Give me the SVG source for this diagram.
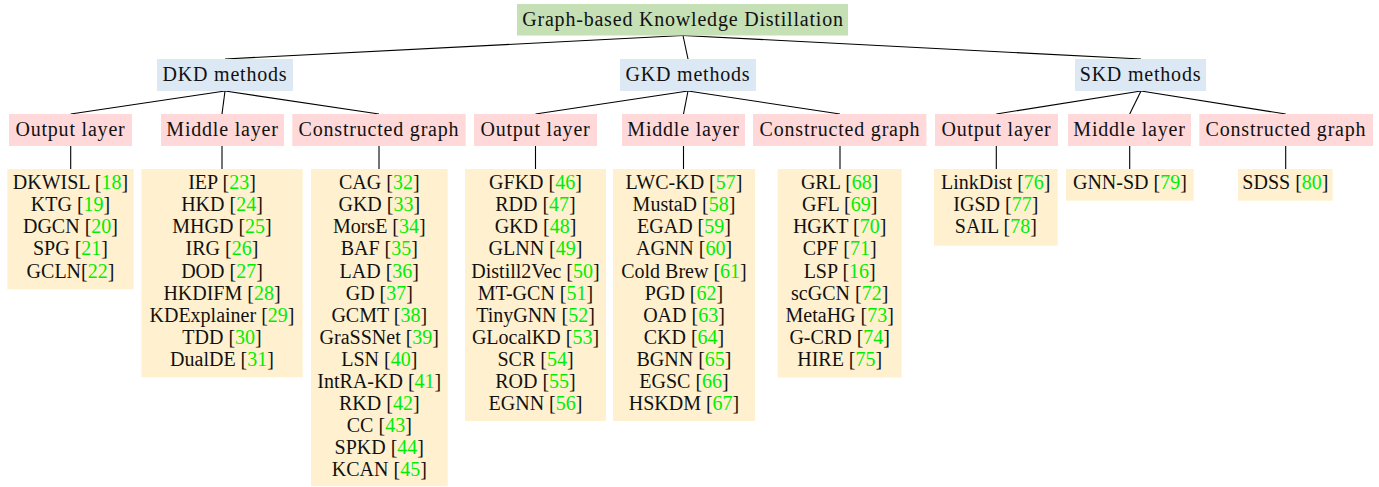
<svg xmlns="http://www.w3.org/2000/svg" width="1379" height="487" viewBox="0 0 1379 487">
<style>
text{font-family:"Liberation Serif","Times New Roman",serif;font-size:20px;fill:#111;text-anchor:middle}
.lb{letter-spacing:0.8px}
.r{fill:#00ee00}
.root{fill:#c5e0b4}
.meth{fill:#dce8f4}
.layer{fill:#ffd9d9}
.leaf{fill:#fff1cf}
#edges line{stroke:#000;stroke-width:1.1}
</style>
<rect width="1379" height="487" fill="#fff"/>
<g id="edges">
<line x1="683" y1="35.5" x2="225" y2="59"/>
<line x1="683" y1="35.5" x2="688" y2="59"/>
<line x1="683" y1="35.5" x2="1141" y2="59"/>
<line x1="225" y1="91" x2="70.7" y2="114"/>
<line x1="225" y1="91" x2="222" y2="114"/>
<line x1="225" y1="91" x2="379" y2="114"/>
<line x1="688" y1="91" x2="535.5" y2="114"/>
<line x1="688" y1="91" x2="683.5" y2="114"/>
<line x1="688" y1="91" x2="840" y2="114"/>
<line x1="1141" y1="91" x2="996.3" y2="114"/>
<line x1="1141" y1="91" x2="1129.7" y2="114"/>
<line x1="1141" y1="91" x2="1285.7" y2="114"/>
<line x1="70.7" y1="146" x2="70.7" y2="169"/>
<line x1="222" y1="146" x2="222" y2="169"/>
<line x1="379" y1="146" x2="379" y2="169"/>
<line x1="535.5" y1="146" x2="535.5" y2="169"/>
<line x1="683.5" y1="146" x2="683.5" y2="169"/>
<line x1="840" y1="146" x2="840" y2="169"/>
<line x1="996.3" y1="146" x2="996.3" y2="169"/>
<line x1="1129.7" y1="146" x2="1129.7" y2="169"/>
<line x1="1285.7" y1="146" x2="1285.7" y2="169"/>
</g>
<g id="root"><rect class="root" x="517" y="4" width="331" height="31.5"/><text class="lb" x="683" y="26">Graph-based Knowledge Distillation</text></g>
<g id="dkd"><rect class="meth" x="157" y="59" width="136" height="32"/><text class="lb" x="225" y="80.5">DKD methods</text></g>
<g id="gkd"><rect class="meth" x="620" y="59" width="136" height="32"/><text class="lb" x="688" y="80.5">GKD methods</text></g>
<g id="skd"><rect class="meth" x="1075" y="59" width="131" height="32"/><text class="lb" x="1140.5" y="80.5">SKD methods</text></g>

<g id="dkd-output"><rect class="layer" x="9" y="114" width="123" height="32"/><text class="lb" x="70.5" y="135.5">Output layer</text></g>
<g id="dkd-middle"><rect class="layer" x="161" y="114" width="123" height="32"/><text class="lb" x="222.5" y="135.5">Middle layer</text></g>
<g id="dkd-constructed"><rect class="layer" x="292.3" y="114" width="173.4" height="32"/><text class="lb" x="379" y="135.5">Constructed graph</text></g>
<g id="gkd-output"><rect class="layer" x="474" y="114" width="123" height="32"/><text class="lb" x="535.5" y="135.5">Output layer</text></g>
<g id="gkd-middle"><rect class="layer" x="622" y="114" width="123" height="32"/><text class="lb" x="683.5" y="135.5">Middle layer</text></g>
<g id="gkd-constructed"><rect class="layer" x="753" y="114" width="173.4" height="32"/><text class="lb" x="840" y="135.5">Constructed graph</text></g>
<g id="skd-output"><rect class="layer" x="935" y="114" width="123" height="32"/><text class="lb" x="996.5" y="135.5">Output layer</text></g>
<g id="skd-middle"><rect class="layer" x="1068" y="114" width="123" height="32"/><text class="lb" x="1129.5" y="135.5">Middle layer</text></g>
<g id="skd-constructed"><rect class="layer" x="1199.3" y="114" width="173.7" height="32"/><text class="lb" x="1286" y="135.5">Constructed graph</text></g>

<g id="dkd-output-leaf"><rect class="leaf" x="7.3" y="169" width="126.4" height="120.3"/>
<text x="70.5" y="189.3">DKWISL [<tspan class="r">18</tspan>]</text>
<text x="70.5" y="211.35">KTG [<tspan class="r">19</tspan>]</text>
<text x="70.5" y="233.4">DGCN [<tspan class="r">20</tspan>]</text>
<text x="70.5" y="255.45">SPG [<tspan class="r">21</tspan>]</text>
<text x="70.5" y="277.5">GCLN[<tspan class="r">22</tspan>]</text>
</g>
<g id="dkd-middle-leaf"><rect class="leaf" x="141.3" y="169" width="161.4" height="208.3"/>
<text x="222" y="189.3">IEP [<tspan class="r">23</tspan>]</text>
<text x="222" y="211.35">HKD [<tspan class="r">24</tspan>]</text>
<text x="222" y="233.4">MHGD [<tspan class="r">25</tspan>]</text>
<text x="222" y="255.45">IRG [<tspan class="r">26</tspan>]</text>
<text x="222" y="277.5">DOD [<tspan class="r">27</tspan>]</text>
<text x="222" y="299.55">HKDIFM [<tspan class="r">28</tspan>]</text>
<text x="222" y="321.6">KDExplainer [<tspan class="r">29</tspan>]</text>
<text x="222" y="343.65">TDD [<tspan class="r">30</tspan>]</text>
<text x="222" y="365.7">DualDE [<tspan class="r">31</tspan>]</text>
</g>
<g id="dkd-constructed-leaf"><rect class="leaf" x="311" y="169" width="136.7" height="317.3"/>
<text x="379.3" y="189.3">CAG [<tspan class="r">32</tspan>]</text>
<text x="379.3" y="211.35">GKD [<tspan class="r">33</tspan>]</text>
<text x="379.3" y="233.4">MorsE [<tspan class="r">34</tspan>]</text>
<text x="379.3" y="255.45">BAF [<tspan class="r">35</tspan>]</text>
<text x="379.3" y="277.5">LAD [<tspan class="r">36</tspan>]</text>
<text x="379.3" y="299.55">GD [<tspan class="r">37</tspan>]</text>
<text x="379.3" y="321.6">GCMT [<tspan class="r">38</tspan>]</text>
<text x="379.3" y="343.65">GraSSNet [<tspan class="r">39</tspan>]</text>
<text x="379.3" y="365.7">LSN [<tspan class="r">40</tspan>]</text>
<text x="379.3" y="387.75">IntRA-KD [<tspan class="r">41</tspan>]</text>
<text x="379.3" y="409.8">RKD [<tspan class="r">42</tspan>]</text>
<text x="379.3" y="431.85">CC [<tspan class="r">43</tspan>]</text>
<text x="379.3" y="453.9">SPKD [<tspan class="r">44</tspan>]</text>
<text x="379.3" y="475.95">KCAN [<tspan class="r">45</tspan>]</text>
</g>
<g id="gkd-output-leaf"><rect class="leaf" x="465" y="169" width="141" height="252"/>
<text x="535.5" y="189.3">GFKD [<tspan class="r">46</tspan>]</text>
<text x="535.5" y="211.35">RDD [<tspan class="r">47</tspan>]</text>
<text x="535.5" y="233.4">GKD [<tspan class="r">48</tspan>]</text>
<text x="535.5" y="255.45">GLNN [<tspan class="r">49</tspan>]</text>
<text x="535.5" y="277.5">Distill2Vec [<tspan class="r">50</tspan>]</text>
<text x="535.5" y="299.55">MT-GCN [<tspan class="r">51</tspan>]</text>
<text x="535.5" y="321.6">TinyGNN [<tspan class="r">52</tspan>]</text>
<text x="535.5" y="343.65">GLocalKD [<tspan class="r">53</tspan>]</text>
<text x="535.5" y="365.7">SCR [<tspan class="r">54</tspan>]</text>
<text x="535.5" y="387.75">ROD [<tspan class="r">55</tspan>]</text>
<text x="535.5" y="409.8">EGNN [<tspan class="r">56</tspan>]</text>
</g>
<g id="gkd-middle-leaf"><rect class="leaf" x="613" y="169" width="142" height="252"/>
<text x="684" y="189.3">LWC-KD [<tspan class="r">57</tspan>]</text>
<text x="684" y="211.35">MustaD [<tspan class="r">58</tspan>]</text>
<text x="684" y="233.4">EGAD [<tspan class="r">59</tspan>]</text>
<text x="684" y="255.45">AGNN [<tspan class="r">60</tspan>]</text>
<text x="684" y="277.5">Cold Brew [<tspan class="r">61</tspan>]</text>
<text x="684" y="299.55">PGD [<tspan class="r">62</tspan>]</text>
<text x="684" y="321.6">OAD [<tspan class="r">63</tspan>]</text>
<text x="684" y="343.65">CKD [<tspan class="r">64</tspan>]</text>
<text x="684" y="365.7">BGNN [<tspan class="r">65</tspan>]</text>
<text x="684" y="387.75">EGSC [<tspan class="r">66</tspan>]</text>
<text x="684" y="409.8">HSKDM [<tspan class="r">67</tspan>]</text>
</g>
<g id="gkd-constructed-leaf"><rect class="leaf" x="777.7" y="169" width="124" height="208.5"/>
<text x="839.7" y="189.3">GRL [<tspan class="r">68</tspan>]</text>
<text x="839.7" y="211.35">GFL [<tspan class="r">69</tspan>]</text>
<text x="839.7" y="233.4">HGKT [<tspan class="r">70</tspan>]</text>
<text x="839.7" y="255.45">CPF [<tspan class="r">71</tspan>]</text>
<text x="839.7" y="277.5">LSP [<tspan class="r">16</tspan>]</text>
<text x="839.7" y="299.55">scGCN [<tspan class="r">72</tspan>]</text>
<text x="839.7" y="321.6">MetaHG [<tspan class="r">73</tspan>]</text>
<text x="839.7" y="343.65">G-CRD [<tspan class="r">74</tspan>]</text>
<text x="839.7" y="365.7">HIRE [<tspan class="r">75</tspan>]</text>
</g>
<g id="skd-output-leaf"><rect class="leaf" x="934" y="169" width="123.7" height="76.7"/>
<text x="995.8" y="189.3">LinkDist [<tspan class="r">76</tspan>]</text>
<text x="995.8" y="211.35">IGSD [<tspan class="r">77</tspan>]</text>
<text x="995.8" y="233.4">SAIL [<tspan class="r">78</tspan>]</text>
</g>
<g id="skd-middle-leaf"><rect class="leaf" x="1066" y="169" width="127.7" height="31.7"/>
<text x="1129.9" y="189.3">GNN-SD [<tspan class="r">79</tspan>]</text>
</g>
<g id="skd-constructed-leaf"><rect class="leaf" x="1238" y="169" width="94.7" height="31.7"/>
<text x="1285.4" y="189.3">SDSS [<tspan class="r">80</tspan>]</text>
</g>
</svg>
